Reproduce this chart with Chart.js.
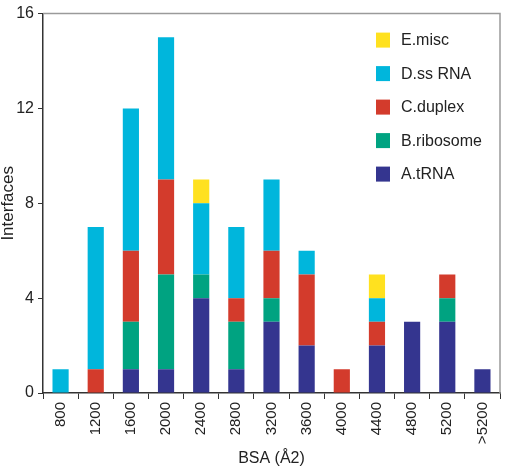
<!DOCTYPE html>
<html>
<head>
<meta charset="utf-8">
<script src="https://cdn.jsdelivr.net/npm/chart.js@4.4.1/dist/chart.umd.min.js"></script>
<style>
  html, body { margin: 0; padding: 0; background: #fff; }
  #wrap { width: 506px; height: 468px; }
</style>
</head>
<body>
<div id="wrap"><canvas id="chart"></canvas></div>
<script>
const categories = ["800", "1200", "1600", "2000", "2400", "2800", "3200", "3600", "4000", "4400", "4800", "5200", ">5200"];
const tRNA = [0, 0, 1, 1, 4, 1, 3, 2, 0, 2, 3, 3, 1];
const ribosome = [0, 0, 2, 4, 1, 2, 1, 0, 0, 0, 0, 1, 0];
const duplex = [0, 1, 3, 4, 0, 1, 2, 3, 1, 1, 0, 1, 0];
const ssRNA = [1, 6, 6, 6, 3, 3, 3, 1, 0, 1, 0, 0, 0];
const misc = [0, 0, 0, 0, 1, 0, 0, 0, 0, 1, 0, 0, 0];
const yTicks = [0, 4, 8, 12, 16];

const FONT = "'Liberation Sans', Arial, sans-serif";

const series = [
  { label: "A.tRNA", data: tRNA, color: "#34358f" },
  { label: "B.ribosome", data: ribosome, color: "#00a381" },
  { label: "C.duplex", data: duplex, color: "#d33b2c" },
  { label: "D.ss RNA", data: ssRNA, color: "#00b6dc" },
  { label: "E.misc", data: misc, color: "#ffe11f" },
];

// frame on top/right + legend inside the plot
const framePlugin = {
  id: "frame",
  afterDraw: (chart) => {
    const { ctx, chartArea } = chart;
    ctx.save();
    ctx.strokeStyle = "#9a9a9a";
    ctx.lineWidth = 1.5;
    ctx.beginPath();
    ctx.moveTo(chartArea.left, chartArea.top);
    ctx.lineTo(chartArea.right, chartArea.top);
    ctx.lineTo(chartArea.right, chartArea.bottom);
    ctx.stroke();

    const items = chart.data.datasets.slice().reverse();
    const x = chartArea.right - 124;
    items.forEach((ds, i) => {
      const cy = chartArea.top + 26 + i * 33.5;
      ctx.fillStyle = ds.backgroundColor;
      ctx.fillRect(x, cy - 7, 14, 15);
      ctx.fillStyle = "#222";
      ctx.font = "16px " + FONT;
      ctx.textBaseline = "middle";
      ctx.textAlign = "left";
      ctx.fillText(ds.label, x + 25, cy + 1);
    });
    ctx.restore();
  },
};

new Chart(document.getElementById("chart"), {
  type: "bar",
  data: {
    labels: categories,
    datasets: series.map(({ label, data, color }) => ({
      label: label,
      data: data,
      backgroundColor: color,
      borderWidth: 0,
      barPercentage: 0.46,
      categoryPercentage: 1,
    })),
  },
  options: {
    responsive: true,
    maintainAspectRatio: false,
    animation: false,
    layout: { padding: { top: 6, right: 6, left: 0, bottom: 0 } },
    plugins: {
      legend: { display: false },
      tooltip: { enabled: false },
    },
    scales: {
      x: {
        stacked: true,
        grid: {
          offset: true,
          drawOnChartArea: false,
          drawTicks: true,
          tickLength: 6,
          color: "#333",
        },
        border: { color: "#333", width: 1.5 },
        ticks: {
          minRotation: 90,
          maxRotation: 90,
          padding: 3,
          color: "#222",
          font: { family: FONT, size: 15 },
        },
        title: {
          display: true,
          text: "BSA (Å2)",
          color: "#222",
          font: { family: FONT, size: 16 },
          padding: 0,
        },
        afterFit: (scale) => {
          scale.height = 75;
        },
      },
      y: {
        stacked: true,
        min: 0,
        max: 16,
        afterBuildTicks: (scale) => {
          scale.ticks = yTicks.map((v) => ({ value: v }));
        },
        grid: {
          drawOnChartArea: false,
          drawTicks: true,
          tickLength: 5,
          color: "#333",
        },
        border: { color: "#333", width: 1.5 },
        ticks: {
          padding: 4,
          color: "#222",
          font: { family: FONT, size: 16 },
        },
        title: {
          display: true,
          text: "Interfaces",
          color: "#222",
          font: { family: FONT, size: 17, lineHeight: 1 },
          padding: 0,
        },
        afterFit: (scale) => {
          scale.width = 43;
        },
      },
    },
  },
  plugins: [framePlugin],
});
</script>
</body>
</html>
